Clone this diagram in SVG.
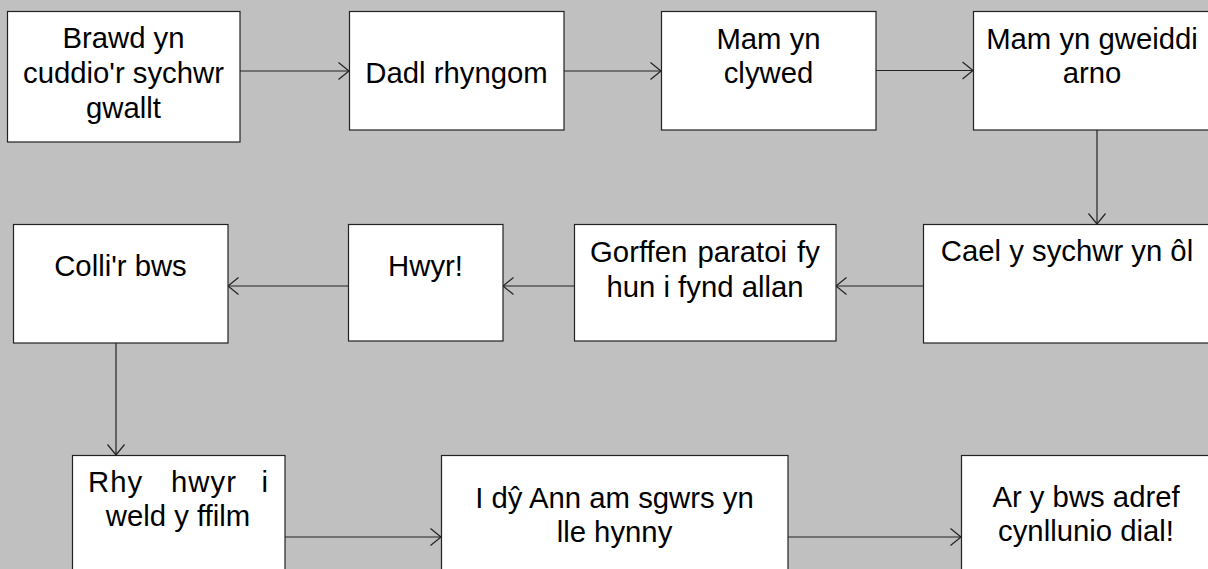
<svg xmlns="http://www.w3.org/2000/svg" width="1208" height="569" viewBox="0 0 1208 569">
<style>
.box{fill:#fff;stroke:#222;stroke-width:1.2}
.t{font-family:"Liberation Sans",Arial,sans-serif;font-size:29.3px;fill:#000;text-anchor:middle}
.ts{font-family:"Liberation Sans",Arial,sans-serif;font-size:29.3px;fill:#000}
.c{fill:none;stroke:#222;stroke-width:1.2}
</style>
<defs>
<marker id="arr" markerUnits="userSpaceOnUse" markerWidth="14" markerHeight="20" refX="12" refY="10" orient="auto">
<path d="M1.5,1.5 L12,10 L1.5,18.5" fill="none" stroke="#222" stroke-width="1.2"/>
</marker>
</defs>
<rect width="1208" height="569" fill="#c0c0c0"/>
<g id="connectors">
<line class="c" x1="240" y1="71" x2="349" y2="71" marker-end="url(#arr)"/>
<line class="c" x1="564" y1="71" x2="661" y2="71" marker-end="url(#arr)"/>
<line class="c" x1="876" y1="70.5" x2="973" y2="70.5" marker-end="url(#arr)"/>
<line class="c" x1="1097" y1="130" x2="1097" y2="224" marker-end="url(#arr)"/>
<line class="c" x1="924" y1="286" x2="836" y2="286" marker-end="url(#arr)"/>
<line class="c" x1="574" y1="286" x2="503" y2="286" marker-end="url(#arr)"/>
<line class="c" x1="348" y1="286" x2="228" y2="286" marker-end="url(#arr)"/>
<line class="c" x1="116" y1="343" x2="116" y2="455" marker-end="url(#arr)"/>
<line class="c" x1="285" y1="537" x2="441" y2="537" marker-end="url(#arr)"/>
<line class="c" x1="788" y1="537" x2="961" y2="537" marker-end="url(#arr)"/>
</g>
<g id="n1">
<rect class="box" x="7.5" y="11.5" width="232.5" height="130.5"/>
<text class="t" x="123.5" y="48">Brawd yn</text>
<text class="t" x="123.5" y="83">cuddio'r sychwr</text>
<text class="t" x="123.5" y="118">gwallt</text>
</g>
<g id="n2">
<rect class="box" x="349.5" y="11.5" width="214.5" height="118.5"/>
<text class="t" x="456.5" y="83">Dadl rhyngom</text>
</g>
<g id="n3">
<rect class="box" x="661.5" y="11.5" width="214.5" height="118.5"/>
<text class="t" x="768.5" y="49">Mam yn</text>
<text class="t" x="768.5" y="83">clywed</text>
</g>
<g id="n4">
<rect class="box" x="973.5" y="11.5" width="238" height="118.5"/>
<text class="t" x="1092" y="49">Mam yn gweiddi</text>
<text class="t" x="1092" y="83">arno</text>
</g>
<g id="n5">
<rect class="box" x="923.5" y="224.5" width="288" height="118.5"/>
<text class="t" x="1067" y="261">Cael y sychwr yn ôl</text>
</g>
<g id="n6">
<rect class="box" x="574.5" y="224.5" width="261.5" height="116.5"/>
<text class="t" x="705" y="262" word-spacing="2">Gorffen paratoi fy</text>
<text class="t" x="705" y="297">hun i fynd allan</text>
</g>
<g id="n7">
<rect class="box" x="348.5" y="224.5" width="154.5" height="116.5"/>
<text class="t" x="425.5" y="276">Hwyr!</text>
</g>
<g id="n8">
<rect class="box" x="13.5" y="224.5" width="214.5" height="118.5"/>
<text class="t" x="120.5" y="276">Colli'r bws</text>
</g>
<g id="n9">
<rect class="box" x="72.5" y="455.5" width="212.5" height="130"/>
<text class="ts" x="88" y="492" letter-spacing="1">Rhy</text>
<text class="t" x="204" y="492" letter-spacing="1">hwyr</text>
<text class="ts" x="268" y="492" text-anchor="end">i</text>
<text class="t" x="178" y="526">weld y ffilm</text>
</g>
<g id="n10">
<rect class="box" x="441.5" y="455.5" width="346.5" height="130"/>
<text class="t" x="614.5" y="508">I dŷ Ann am sgwrs yn</text>
<text class="t" x="614.5" y="542">lle hynny</text>
</g>
<g id="n11">
<rect class="box" x="961.5" y="455.5" width="250" height="130"/>
<text class="t" x="1086" y="507">Ar y bws adref</text>
<text class="t" x="1086" y="541">cynllunio dial!</text>
</g>
</svg>
